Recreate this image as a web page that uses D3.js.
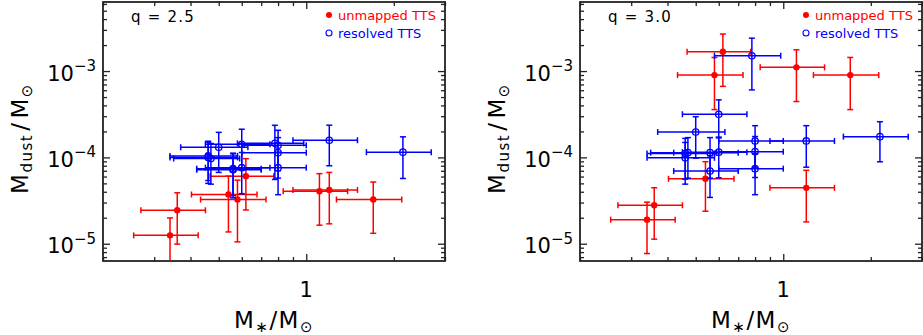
<!DOCTYPE html>
<html>
<head>
<meta charset="utf-8">
<script src="https://cdn.jsdelivr.net/npm/d3@7"></script>
<style>
body { margin: 0; background: #fff; }
text { font-family: "DejaVu Sans", sans-serif; }
</style>
</head>
<body>
<div id="chart"></div>
<script>
// resolved TTS (blue), stellar mass + error, dust mass for q = 2.5 and q = 3.0
var resolvedMass    = [0.46, 0.46, 0.47, 0.50, 0.56, 0.56, 0.60, 0.60, 0.78, 0.80, 0.80, 0.80, 1.20, 2.15];
var resolvedMassErr = [0.12, 0.12, 0.12, 0.13, 0.14, 0.14, 0.15, 0.15, 0.20, 0.20, 0.20, 0.20, 0.30, 0.54];
var resolvedDust25    = [1.04e-4, 1.00e-4, 0.97e-4, 1.31e-4, 0.72e-4, 0.74e-4, 0.76e-4, 1.42e-4, 1.455e-4, 1.38e-4, 1.135e-4, 0.76e-4, 1.58e-4, 1.15e-4];
var resolvedDustErr25 = [0.50e-4, 0.50e-4, 0.48e-4, 0.64e-4, 0.38e-4, 0.38e-4, 0.38e-4, 0.70e-4, 0.90e-4, 0.68e-4, 0.56e-4, 0.39e-4, 0.78e-4, 0.58e-4];
var resolvedDust30    = [1.11e-4, 0.99e-4, 1.135e-4, 1.97e-4, 1.135e-4, 0.694e-4, 1.15e-4, 3.16e-4, 1.505e-3, 1.55e-4, 1.165e-4, 0.74e-4, 1.55e-4, 1.74e-4];
var resolvedDustErr30 = [0.55e-4, 0.50e-4, 0.56e-4, 0.99e-4, 0.56e-4, 0.35e-4, 0.57e-4, 1.48e-4, 9.0e-4, 0.78e-4, 0.58e-4, 0.37e-4, 0.78e-4, 0.85e-4];

// unmapped TTS (red)
var unmappedMass    = [0.34, 0.36, 0.54, 0.58, 0.62, 1.11, 1.20, 1.70];
var unmappedMassErr = [0.085, 0.09, 0.137, 0.147, 0.153, 0.277, 0.30, 0.43];
var unmappedDust25    = [1.25e-5, 2.44e-5, 3.72e-5, 3.25e-5, 6.06e-5, 4.06e-5, 4.2e-5, 3.25e-5];
var unmappedDustErr25 = [0.74e-5, 1.45e-5, 2.35e-5, 2.2e-5, 3.6e-5, 2.42e-5, 2.5e-5, 1.93e-5];
var unmappedDust30    = [1.90e-5, 2.79e-5, 5.65e-5, 8.98e-4, 1.675e-3, 1.104e-3, 4.44e-5, 8.98e-4];
var unmappedDustErr30 = [1.13e-5, 1.66e-5, 3.27e-5, 5.4e-4, 1.01e-3, 6.6e-4, 2.65e-5, 5.4e-4];

var panelNames = ["q = 2.5", "q = 3.0"];
var massDomain = [0.2, 3];
var dustDomain = [Math.pow(10, -5.2), Math.pow(10, -2.2)];
var xMajor = [1], xMajorLabels = ["1"];
var yMajor = [1e-5, 1e-4, 1e-3], yMajorExp = ["\u22125", "\u22124", "\u22123"];

var width = 923, height = 335;
var panelLeft = [103, 580], top0 = 2, pw = 342, ph = 259;
var red = "#ff0000", blue = "#0000ff", ink = "#222";

var svg = d3.select("#chart").append("svg")
	.attr("width", width)
	.attr("height", height);

function zip(m, me, d, de) {
	return m.map(function(v, i) { return {m: v, me: me[i], d: d[i], de: de[i]}; });
}

function errorBars(g, data, x, y, color) {
	var cap = 3;
	var s = g.append("g").attr("stroke", color).attr("stroke-width", 1.5).attr("fill", "none");
	data.forEach(function(p) {
		var cx = x(p.m), cy = y(p.d);
		var xl = x(p.m - p.me), xr = x(p.m + p.me);
		var lo = p.d - p.de > 0 ? y(p.d - p.de) : top0 + ph + 10;
		var hi = y(p.d + p.de);
		s.append("line").attr("x1", xl).attr("x2", xr).attr("y1", cy).attr("y2", cy);
		s.append("line").attr("x1", xl).attr("x2", xl).attr("y1", cy - cap).attr("y2", cy + cap);
		s.append("line").attr("x1", xr).attr("x2", xr).attr("y1", cy - cap).attr("y2", cy + cap);
		s.append("line").attr("x1", cx).attr("x2", cx).attr("y1", lo).attr("y2", hi);
		s.append("line").attr("x1", cx - cap).attr("x2", cx + cap).attr("y1", lo).attr("y2", lo);
		s.append("line").attr("x1", cx - cap).attr("x2", cx + cap).attr("y1", hi).attr("y2", hi);
	});
}

function drawPanel(i, unm, res) {
	var x0 = panelLeft[i];
	var x = d3.scaleLog().domain(massDomain).range([x0, x0 + pw]);
	var y = d3.scaleLog().domain(dustDomain).range([top0 + ph, top0]);
	var g = svg.append("g");

	svg.append("clipPath").attr("id", "clip" + i)
		.append("rect").attr("x", x0).attr("y", top0).attr("width", pw).attr("height", ph);

	// ticks on all four sides, pointing inward
	var xMinor = x.ticks().filter(function(v) { return xMajor.indexOf(v) < 0; });
	var yMinor = y.ticks().filter(function(v) { return yMajor.indexOf(v) < 0; });
	var axes = [
		[d3.axisBottom, "translate(0," + (top0 + ph) + ")", x, xMajor, xMinor],
		[d3.axisTop, "translate(0," + top0 + ")", x, xMajor, xMinor],
		[d3.axisLeft, "translate(" + x0 + ",0)", y, yMajor, yMinor],
		[d3.axisRight, "translate(" + (x0 + pw) + ",0)", y, yMajor, yMinor]
	];
	axes.forEach(function(a) {
		[[a[3], 7], [a[4], 4]].forEach(function(t) {
			var ax = g.append("g").attr("transform", a[1]).attr("color", ink)
				.call(a[0](a[2]).tickValues(t[0]).tickSize(-t[1]).tickFormat(""));
			ax.select(".domain").remove();
			ax.selectAll("line").attr("stroke-width", 1.3);
		});
	});

	g.append("rect")
		.attr("x", x0).attr("y", top0).attr("width", pw).attr("height", ph)
		.attr("fill", "none").attr("stroke", ink).attr("stroke-width", 1.8);

	// marks
	var m = g.append("g").attr("clip-path", "url(#clip" + i + ")");
	errorBars(m, unm, x, y, red);
	m.selectAll("circle.unm").data(unm).enter().append("circle")
		.attr("class", "unm")
		.attr("cx", function(d) { return x(d.m); })
		.attr("cy", function(d) { return y(d.d); })
		.attr("r", 3.2).attr("fill", red);
	errorBars(m, res, x, y, blue);
	m.selectAll("circle.res").data(res).enter().append("circle")
		.attr("class", "res")
		.attr("cx", function(d) { return x(d.m); })
		.attr("cy", function(d) { return y(d.d); })
		.attr("r", 3.2).attr("fill", "none").attr("stroke", blue).attr("stroke-width", 1.3);

	// y tick labels 10^n
	yMajor.forEach(function(v, k) {
		var t = g.append("text")
			.attr("x", x0 - 7).attr("y", y(v) + 9.5)
			.attr("text-anchor", "end").attr("fill", "#000");
		t.append("tspan").attr("font-size", 21).text("10");
		t.append("tspan").attr("font-size", 15).attr("dy", -9.5).text(yMajorExp[k]);
	});
	// x tick labels
	xMajor.forEach(function(v, k) {
		g.append("text")
			.attr("x", x(v)).attr("y", top0 + ph + 36)
			.attr("text-anchor", "middle").attr("font-size", 21).attr("fill", "#000")
			.text(xMajorLabels[k]);
	});

	// x title  M*/Msun
	var xt = g.append("text")
		.attr("x", x0 + pw / 2).attr("y", 328)
		.attr("text-anchor", "middle").attr("font-size", 23)
		.attr("letter-spacing", 1.5).attr("fill", "#000");
	xt.append("tspan").text("M");
	xt.append("tspan").attr("font-size", 15).attr("dy", 4).text("\u2217");
	xt.append("tspan").attr("dy", -4).text("/M");
	xt.append("tspan").attr("font-size", 15).attr("dy", 4).text("\u2299");

	// y title  Mdust/Msun
	var yt = g.append("text")
		.attr("transform", "translate(" + (x0 - 75) + ",138.5) rotate(-90)")
		.attr("text-anchor", "middle").attr("font-size", 23)
		.attr("letter-spacing", 1.5).attr("fill", "#000");
	yt.append("tspan").text("M");
	yt.append("tspan").attr("font-size", 15).attr("dy", 4).text("dust");
	yt.append("tspan").attr("dy", -4).attr("dx", 3).text("/");
	yt.append("tspan").attr("dx", 3).text("M");
	yt.append("tspan").attr("font-size", 15).attr("dy", 4).text("\u2299");

	// q label
	g.append("text")
		.attr("x", x0 + 28).attr("y", 22)
		.attr("font-size", 15).attr("letter-spacing", 1.2).attr("fill", "#000")
		.text(panelNames[i]);

	// legend
	var lx = x0 + pw - 116;
	g.append("circle").attr("cx", lx).attr("cy", 15).attr("r", 3).attr("fill", red);
	g.append("text").attr("x", lx + 9).attr("y", 19.5).attr("font-size", 13)
		.attr("fill", red).text("unmapped TTS");
	g.append("circle").attr("cx", lx).attr("cy", 33).attr("r", 3)
		.attr("fill", "none").attr("stroke", blue).attr("stroke-width", 1.1);
	g.append("text").attr("x", lx + 9).attr("y", 37.5).attr("font-size", 13)
		.attr("fill", blue).text("resolved TTS");
}

drawPanel(0,
	zip(unmappedMass, unmappedMassErr, unmappedDust25, unmappedDustErr25),
	zip(resolvedMass, resolvedMassErr, resolvedDust25, resolvedDustErr25));
drawPanel(1,
	zip(unmappedMass, unmappedMassErr, unmappedDust30, unmappedDustErr30),
	zip(resolvedMass, resolvedMassErr, resolvedDust30, resolvedDustErr30));
</script>
</body>
</html>
